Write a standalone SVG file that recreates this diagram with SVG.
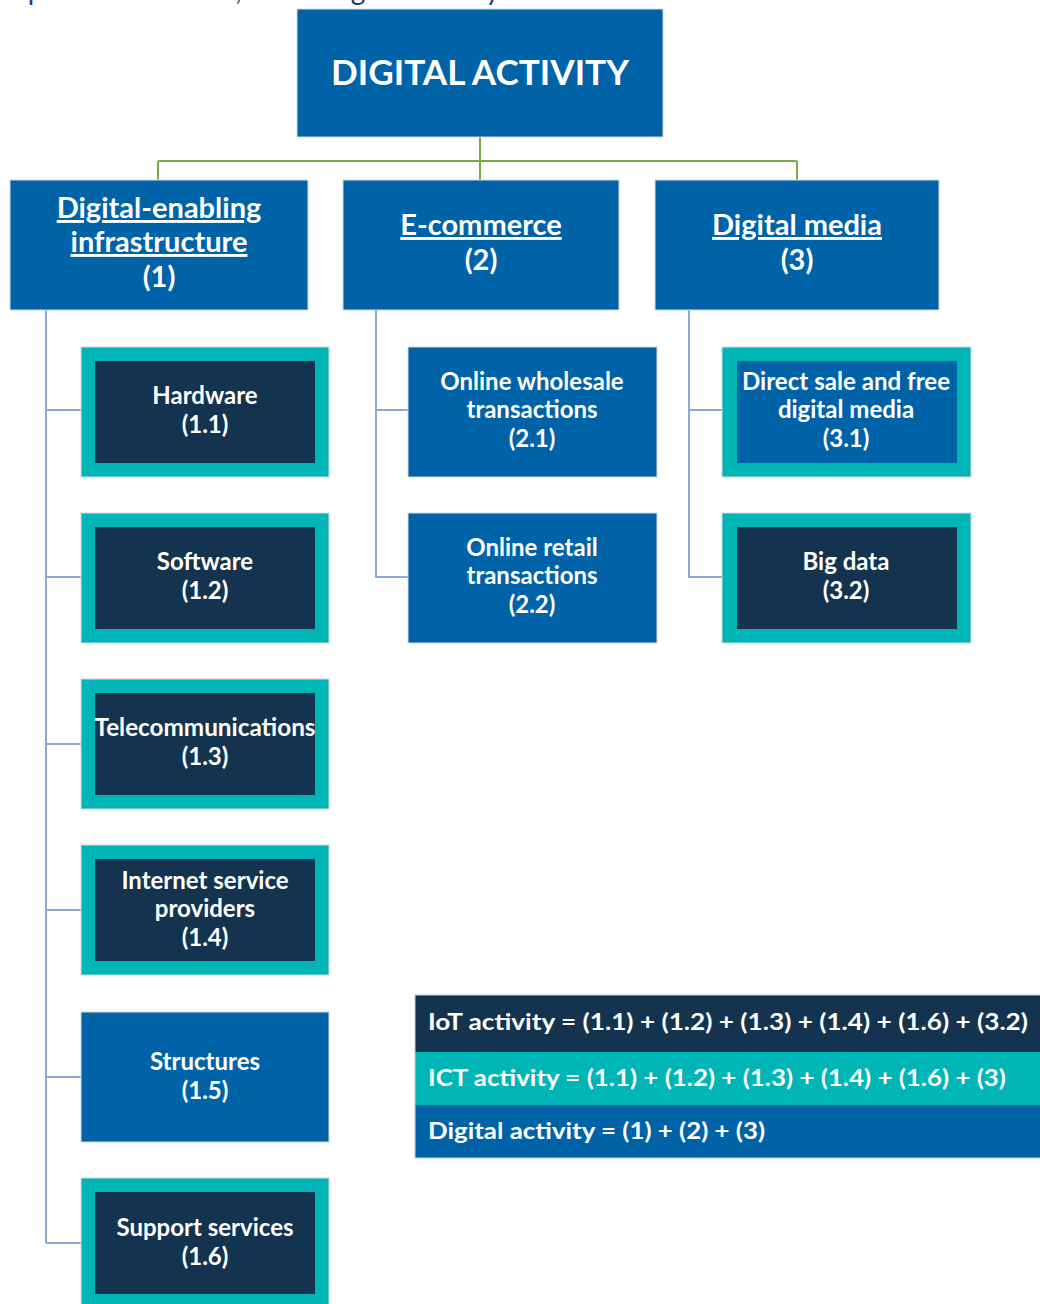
<svg xmlns="http://www.w3.org/2000/svg" width="1040" height="1304" viewBox="0 0 1040 1304">
  <style>
    text { font-family: Lato, "Open Sans", "Liberation Sans", sans-serif; font-weight: bold; fill: #ffffff; text-anchor: middle; }
    .caption { font-weight: normal; fill: #1f3b73; font-size: 28px; text-anchor: end; }
    .title { font-size: 34px; }
    .h1 { font-size: 29px; }
    .h2 { font-size: 24px; }
    .formula { font-size: 23px; text-anchor: start; }
    .u { text-decoration: underline; }
    .blue { fill: #0063a8; }
    .teal { fill: #00b5b5; }
    .navy { fill: #13334f; }
    .edge { stroke: #d3d9df; stroke-width: 1; }
    .green-link { fill: none; stroke: #78ab46; stroke-width: 2; }
    .blue-link { fill: none; stroke: #8aaad6; stroke-width: 2; }
  </style>

  <rect width="1040" height="1304" fill="#ffffff"/>

  <!-- caption line, mostly above the top edge -->
  <text class="caption" x="500" y="0">scope and definition, of the digital activity</text>

  <!-- connectors -->
  <g id="connectors">
    <path class="green-link" d="M480 137 V161 M158 161 H797 M158 161 V180 M480 161 V180 M797 161 V180"/>
    <path class="blue-link" d="M46 310 V1243 M46 410 H81 M46 577 H81 M46 744 H81 M46 910 H81 M46 1077 H81 M46 1243 H81"/>
    <path class="blue-link" d="M376 310 V577 H408 M376 410 H408"/>
    <path class="blue-link" d="M689 310 V577 H722 M689 410 H722"/>
  </g>

  <!-- root -->
  <g id="digital-activity">
    <rect class="blue edge" x="297" y="9" width="366" height="128"/>
    <text class="title" x="480" y="85" textLength="298" lengthAdjust="spacingAndGlyphs">DIGITAL ACTIVITY</text>
  </g>

  <!-- level 1 -->
  <g id="infrastructure">
    <rect class="blue edge" x="10" y="180" width="298" height="130"/>
    <text class="h1" x="159" y="218"><tspan class="u">Digital-enabling</tspan></text>
    <text class="h1" x="159" y="252"><tspan class="u">infrastructure</tspan></text>
    <text class="h1" x="159" y="287">(1)</text>
  </g>
  <g id="e-commerce">
    <rect class="blue edge" x="343" y="180" width="276" height="130"/>
    <text class="h1" x="481" y="235"><tspan class="u">E-commerce</tspan></text>
    <text class="h1" x="481" y="270">(2)</text>
  </g>
  <g id="digital-media">
    <rect class="blue edge" x="655" y="180" width="284" height="130"/>
    <text class="h1" x="797" y="235"><tspan class="u">Digital media</tspan></text>
    <text class="h1" x="797" y="270">(3)</text>
  </g>

  <!-- infrastructure children -->
  <g id="hardware">
    <rect class="teal edge" x="81" y="347" width="248" height="130"/>
    <rect class="navy" x="95" y="361" width="220" height="102"/>
    <text class="h2" x="205" y="404">Hardware</text>
    <text class="h2" x="205" y="433">(1.1)</text>
  </g>
  <g id="software">
    <rect class="teal edge" x="81" y="513" width="248" height="130"/>
    <rect class="navy" x="95" y="527" width="220" height="102"/>
    <text class="h2" x="205" y="570">Software</text>
    <text class="h2" x="205" y="599">(1.2)</text>
  </g>
  <g id="telecommunications">
    <rect class="teal edge" x="81" y="679" width="248" height="130"/>
    <rect class="navy" x="95" y="693" width="220" height="102"/>
    <text class="h2" x="205" y="736" textLength="221" lengthAdjust="spacingAndGlyphs">Telecommunications</text>
    <text class="h2" x="205" y="765">(1.3)</text>
  </g>
  <g id="internet-service-providers">
    <rect class="teal edge" x="81" y="845" width="248" height="130"/>
    <rect class="navy" x="95" y="859" width="220" height="102"/>
    <text class="h2" x="205" y="889">Internet service</text>
    <text class="h2" x="205" y="917">providers</text>
    <text class="h2" x="205" y="946">(1.4)</text>
  </g>
  <g id="structures">
    <rect class="blue edge" x="81" y="1012" width="248" height="130"/>
    <text class="h2" x="205" y="1070">Structures</text>
    <text class="h2" x="205" y="1099">(1.5)</text>
  </g>
  <g id="support-services">
    <rect class="teal edge" x="81" y="1178" width="248" height="132"/>
    <rect class="navy" x="95" y="1192" width="220" height="102"/>
    <text class="h2" x="205" y="1236">Support services</text>
    <text class="h2" x="205" y="1265">(1.6)</text>
  </g>

  <!-- e-commerce children -->
  <g id="online-wholesale">
    <rect class="blue edge" x="408" y="347" width="249" height="130"/>
    <text class="h2" x="532" y="390">Online wholesale</text>
    <text class="h2" x="532" y="418">transactions</text>
    <text class="h2" x="532" y="447">(2.1)</text>
  </g>
  <g id="online-retail">
    <rect class="blue edge" x="408" y="513" width="249" height="130"/>
    <text class="h2" x="532" y="556">Online retail</text>
    <text class="h2" x="532" y="584">transactions</text>
    <text class="h2" x="532" y="613">(2.2)</text>
  </g>

  <!-- digital media children -->
  <g id="direct-sale">
    <rect class="teal edge" x="722" y="347" width="249" height="130"/>
    <rect class="blue" x="737" y="361" width="220" height="102"/>
    <text class="h2" x="846" y="390" textLength="208" lengthAdjust="spacingAndGlyphs">Direct sale and free</text>
    <text class="h2" x="846" y="418">digital media</text>
    <text class="h2" x="846" y="447">(3.1)</text>
  </g>
  <g id="big-data">
    <rect class="teal edge" x="722" y="513" width="249" height="130"/>
    <rect class="navy" x="737" y="527" width="220" height="102"/>
    <text class="h2" x="846" y="570">Big data</text>
    <text class="h2" x="846" y="599">(3.2)</text>
  </g>

  <!-- definitions table -->
  <g id="definitions">
    <rect class="navy" x="415" y="995" width="630" height="57"/>
    <rect class="teal" x="415" y="1052" width="630" height="53"/>
    <rect class="blue" x="415" y="1105" width="630" height="53"/>
    <rect x="415" y="995" width="630" height="163" fill="none" stroke="#c8d0d8" stroke-width="1"/>
    <text class="formula" x="428" y="1030" textLength="600" lengthAdjust="spacingAndGlyphs">IoT activity = (1.1) + (1.2) + (1.3) + (1.4) + (1.6) + (3.2)</text>
    <text class="formula" x="428" y="1086" textLength="578" lengthAdjust="spacingAndGlyphs">ICT activity = (1.1) + (1.2) + (1.3) + (1.4) + (1.6) + (3)</text>
    <text class="formula" x="428" y="1139" textLength="337" lengthAdjust="spacingAndGlyphs">Digital activity = (1) + (2) + (3)</text>
  </g>
</svg>
